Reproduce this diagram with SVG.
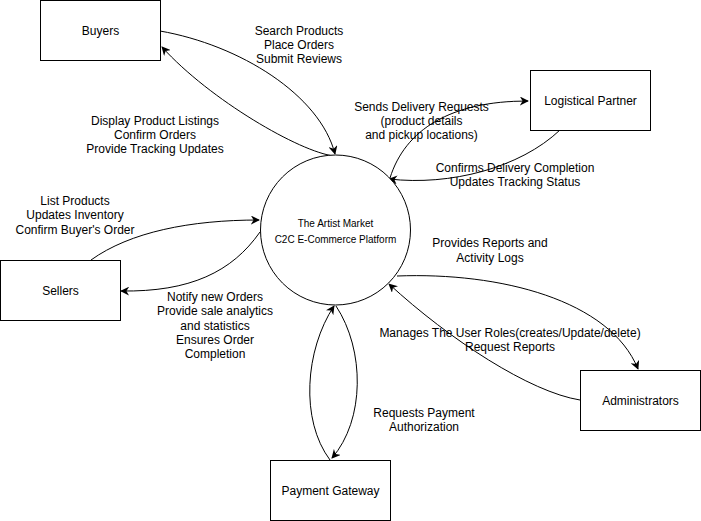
<svg xmlns="http://www.w3.org/2000/svg" width="701" height="521" viewBox="0 0 701 521">
<style>
.box{fill:#fff;stroke:#000;stroke-width:1}
.t{font-family:"Liberation Sans",Arial,sans-serif;font-size:12px;fill:#000;text-anchor:middle}
.s{font-size:10px}
.e{fill:none;stroke:#000;stroke-width:1;marker-end:url(#ar)}
</style>
<defs>
<marker id="ar" viewBox="0 0 10 10" refX="9" refY="5" markerWidth="9" markerHeight="9" markerUnits="userSpaceOnUse" orient="auto">
<path d="M0,0 L10,5 L0,10 L3,5 z" fill="#000"/>
</marker>
</defs>
<rect width="701" height="521" fill="#fff"/>
<g id="connectors">
<path class="e" d="M160,31 C240,45 320,95 335,154"/>
<path class="e" d="M334,156 C300,152 210,100 162,47"/>
<path class="e" d="M390,178 C405,130 450,101 528,101"/>
<path class="e" d="M560,130 C520,168 450,186 389,179"/>
<path class="e" d="M91,260 C130,232 190,220 259,220"/>
<path class="e" d="M260,232 C232,272 190,292 121,291"/>
<path class="e" d="M397,276 C500,272 610,300 638,369"/>
<path class="e" d="M580,400 C530,392 450,340 389,284"/>
<path class="e" d="M330,460 C300,420 305,350 334,306"/>
<path class="e" d="M336,306 C365,350 365,420 332,458"/>
</g>
<g id="buyers"><rect class="box" x="40.5" y="0.5" width="120" height="60"/><text class="t" x="100.5" y="34.5">Buyers</text></g>
<g id="logistical"><rect class="box" x="530.5" y="70.5" width="120" height="60"/><text class="t" x="590.5" y="104.5">Logistical Partner</text></g>
<g id="sellers"><rect class="box" x="0.5" y="260.5" width="120" height="60"/><text class="t" x="60.5" y="294.5">Sellers</text></g>
<g id="administrators"><rect class="box" x="580.5" y="370.5" width="120" height="60"/><text class="t" x="640.5" y="404.5">Administrators</text></g>
<g id="payment"><rect class="box" x="270.5" y="460.5" width="120" height="60"/><text class="t" x="330.5" y="494.5">Payment Gateway</text></g>
<g id="platform"><circle class="box" cx="335.5" cy="230" r="75"/>
<text class="t s" x="335.5" y="226.5">The Artist Market</text>
<text class="t s" x="335.5" y="242.5">C2C E-Commerce Platform</text></g>
<g id="labels">
<text class="t" x="299" y="34.5">Search Products</text>
<text class="t" x="299" y="48.9">Place Orders</text>
<text class="t" x="299" y="63.3">Submit Reviews</text>
<text class="t" x="155" y="124.5">Display Product Listings</text>
<text class="t" x="155" y="138.9">Confirm Orders</text>
<text class="t" x="155" y="153.3">Provide Tracking Updates</text>
<text class="t" x="421.5" y="110.5">Sends Delivery Requests</text>
<text class="t" x="421.5" y="124.9">(product details</text>
<text class="t" x="421.5" y="139.3">and pickup locations)</text>
<text class="t" x="515" y="172">Confirms Delivery Completion</text>
<text class="t" x="515" y="186.4">Updates Tracking Status</text>
<text class="t" x="75" y="204.7">List Products</text>
<text class="t" x="75" y="219.1">Updates Inventory</text>
<text class="t" x="75" y="233.5">Confirm Buyer's Order</text>
<text class="t" x="215" y="300.7">Notify new Orders</text>
<text class="t" x="215" y="315.1">Provide sale analytics</text>
<text class="t" x="215" y="329.5">and statistics</text>
<text class="t" x="215" y="343.9">Ensures Order</text>
<text class="t" x="215" y="358.3">Completion</text>
<text class="t" x="490" y="247.3">Provides Reports and</text>
<text class="t" x="490" y="261.7">Activity Logs</text>
<text class="t" x="510" y="336.7">Manages The User Roles(creates/Update/delete)</text>
<text class="t" x="510" y="351.1">Request Reports</text>
<text class="t" x="424" y="416.7">Requests Payment</text>
<text class="t" x="424" y="431.1">Authorization</text>
</g>
</svg>
